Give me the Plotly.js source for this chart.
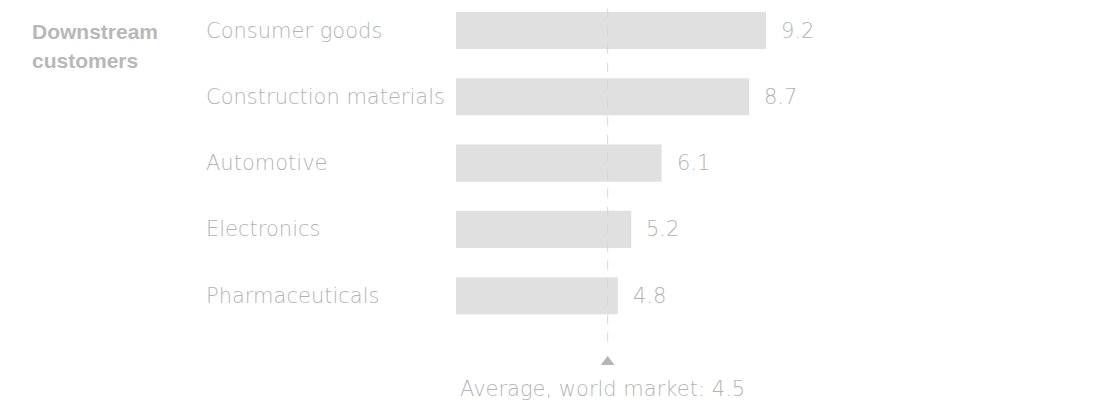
<!DOCTYPE html>
<html>
<head>
<meta charset="utf-8">
<script src="https://cdn.plot.ly/plotly-3.0.1.min.js"></script>
<style>
html,body{margin:0;padding:0;background:#fff;}
#chart{width:1115px;height:403px;}
</style>
</head>
<body>
<div id="chart"></div>
<script>
const groupLabelLines = ["Downstream", "customers"];
const categories = ["Consumer goods", "Construction materials", "Automotive", "Electronics", "Pharmaceuticals"];
const values = [9.2, 8.7, 6.1, 5.2, 4.8];
const averageValue = 4.5;
const averageLabel = "Average, world market: 4.5";

const FONT = "DejaVu Sans, Liberation Sans, Arial, sans-serif";
const TXT = "#b4b4b4";

const barTrace = {
  type: "bar",
  orientation: "h",
  x: values,
  y: categories,
  marker: {color: "#e0e0e0", line: {width: 0}},
  hoverinfo: "none",
  showlegend: false
};

const markerTrace = {
  type: "scatter",
  mode: "markers",
  x: [averageValue],
  y: [4.94],
  marker: {symbol: "triangle-up", size: 12, color: "#b5b5b5"},
  hoverinfo: "none",
  showlegend: false
};

const annotations = [];
categories.forEach((c, i) => {
  annotations.push({
    xref: "paper", yref: "y", x: 204/1115, y: c,
    xanchor: "left", yanchor: "middle",
    text: c, showarrow: false,
    font: {family: FONT, size: 21, color: TXT, weight: 200}
  });
  annotations.push({
    xref: "x", yref: "y", x: values[i], y: c,
    xanchor: "left", yanchor: "middle", xshift: 13,
    text: values[i].toFixed(1), showarrow: false,
    font: {family: FONT, size: 21, color: TXT, weight: 200}
  });
});
const groupY = [32, 61];
groupLabelLines.forEach((t, i) => {
  annotations.push({
    xref: "paper", yref: "paper", x: 30/1115, y: (403 - groupY[i]) / 403,
    xanchor: "left", yanchor: "middle", align: "left",
    text: "<b>" + t + "</b>", showarrow: false,
    font: {family: "Liberation Sans, Arial, sans-serif", size: 21, color: "#b8b8b8"}
  });
});
annotations.push({
  xref: "x", yref: "y", x: averageValue, y: 5.41, xshift: -5,
  xanchor: "center", yanchor: "middle",
  text: averageLabel, showarrow: false,
  font: {family: FONT, size: 21, color: TXT, weight: 200}
});

const layout = {
  width: 1115, height: 403,
  margin: {l: 0, r: 0, t: 0, b: 0},
  paper_bgcolor: "#fff", plot_bgcolor: "#fff",
  bargap: 0.44,
  xaxis: {domain: [456/1115, 1], range: [0, 659/33.7], visible: false, fixedrange: true},
  yaxis: {type: "category", categoryarray: categories, range: [5.618, -0.46], visible: false, fixedrange: true},
  shapes: [{
    type: "line", xref: "x", yref: "y",
    x0: averageValue, x1: averageValue, y0: -0.6, y1: 4.8,
    line: {color: "#d6d6d6", width: 1, dash: "dash"},
    layer: "above"
  }],
  annotations: annotations,
  showlegend: false
};

Plotly.newPlot("chart", [barTrace, markerTrace], layout, {staticPlot: true, displayModeBar: false});
</script>
</body>
</html>
